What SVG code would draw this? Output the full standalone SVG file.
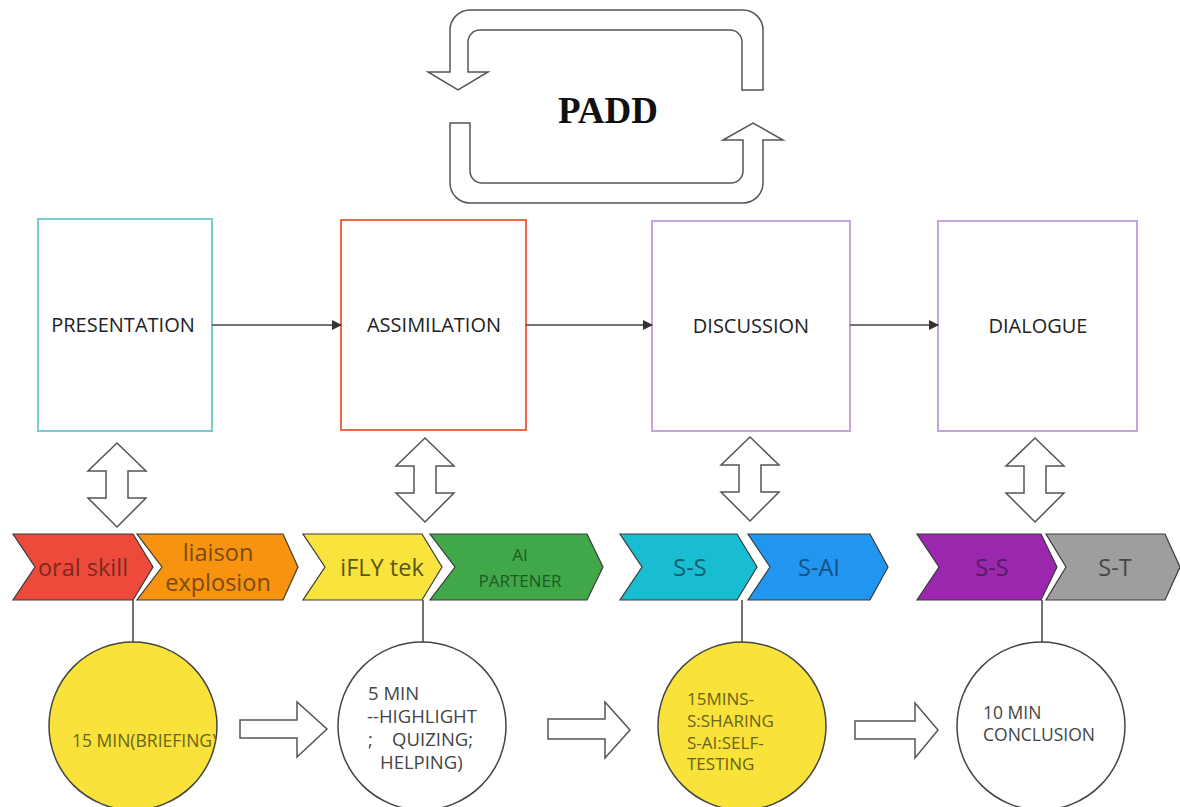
<svg xmlns="http://www.w3.org/2000/svg" width="1180" height="807" viewBox="0 0 1180 807">
<style>
.bg{fill:#ffffff}
.hollow{fill:#ffffff;stroke:#555555;stroke-width:1.5;stroke-linejoin:miter}
.box{fill:#ffffff;stroke-width:2}
.lbl{font-family:"Open Sans","Liberation Sans",sans-serif;font-size:20px;fill:#222222;text-anchor:middle}
.chev{stroke:#3a3a3a;stroke-width:1.2}
.ct{font-family:"Open Sans","Liberation Sans",sans-serif;font-size:23.5px;text-anchor:middle}
.ct2{font-family:"Open Sans","Liberation Sans",sans-serif;font-size:23.5px;text-anchor:middle}
.ct3{font-family:"Open Sans","Liberation Sans",sans-serif;font-size:17px;text-anchor:middle}
.conn{stroke:#444444;stroke-width:1.5;fill:none}
.circ{stroke:#444444;stroke-width:1.5}
.cx{font-family:"Open Sans","Liberation Sans",sans-serif;font-size:17px}
.cxl{font-family:"Open Sans","Liberation Sans",sans-serif;font-size:18.5px}
</style>
<defs>
<marker id="ah" markerWidth="10" markerHeight="10" refX="9" refY="5" orient="auto" markerUnits="userSpaceOnUse">
<path d="M0,0 L10,5 L0,10 Z" fill="#333333"/>
</marker>
<path id="dbl" d="M0,0 L29,28 L11,28 L11,55 L29,55 L0,84 L-29,55 L-11,55 L-11,28 L-29,28 Z"/>
<clipPath id="clip1"><circle cx="133" cy="726" r="84"/></clipPath>
</defs>
<rect class="bg" x="0" y="0" width="1180" height="807"/>

<g id="padd">
<path class="hollow" d="M763,90 L763,30 A20,20 0 0 0 743,10 L470,10 A20,20 0 0 0 450,30 L450,72 L428,72 L458,90 L488,72 L468,72 L468,42 A12,12 0 0 1 480,30 L730,30 A12,12 0 0 1 742,42 L742,90 Z"/>
<path class="hollow" d="M450,123 L450,183 A20,20 0 0 0 470,203 L743,203 A20,20 0 0 0 763,183 L763,140 L783,140 L753,123 L723,140 L743,140 L743,171 A12,12 0 0 1 731,183 L482,183 A12,12 0 0 1 470,171 L470,123 Z"/>
<text x="608" y="123" font-family="'Liberation Serif',serif" font-weight="bold" font-size="37" text-anchor="middle" fill="#111111">PADD</text>
</g>

<g id="presentation">
<rect class="box" x="38" y="219" width="174" height="212" stroke="#76cdcf"/>
<text class="lbl" x="123" y="332">PRESENTATION</text>
</g>
<g id="assimilation">
<rect class="box" x="341" y="220" width="185" height="210" stroke="#ec6a3f"/>
<text class="lbl" x="434" y="332">ASSIMILATION</text>
</g>
<g id="discussion">
<rect class="box" x="652" y="221" width="198" height="210" stroke="#c3a5dc"/>
<text class="lbl" x="751" y="333">DISCUSSION</text>
</g>
<g id="dialogue">
<rect class="box" x="938" y="221" width="199" height="210" stroke="#c3a5dc"/>
<text class="lbl" x="1038" y="333">DIALOGUE</text>
</g>

<g id="connectors">
<path class="conn" d="M212,325 L341,325" marker-end="url(#ah)"/>
<path class="conn" d="M526,325 L652,325" marker-end="url(#ah)"/>
<path class="conn" d="M850,325 L938,325" marker-end="url(#ah)"/>
<use href="#dbl" class="hollow" transform="translate(117,443)"/>
<use href="#dbl" class="hollow" transform="translate(425,438)"/>
<use href="#dbl" class="hollow" transform="translate(750,437)"/>
<use href="#dbl" class="hollow" transform="translate(1035,438)"/>
<path class="conn" d="M133,600 L133,642"/>
<path class="conn" d="M423,600 L423,642"/>
<path class="conn" d="M742,600 L742,642"/>
<path class="conn" d="M1042,600 L1042,642"/>
<polygon class="hollow" points="240,720 297,720 297,702 327,729 297,757 297,738 240,738"/>
<polygon class="hollow" points="548,719 605,719 605,702 630,730 605,758 605,739 548,739"/>
<polygon class="hollow" points="855,721 915,721 915,703 938,730 915,758 915,739 855,739"/>
</g>

<g id="oral-skill">
<polygon class="chev" fill="#ee4a3b" points="13,534 133,534 153,567 133,600 13,600 35,567"/>
<text class="ct" x="83" y="576" fill="#7a2a1e">oral skill</text>
</g>
<g id="liaison-explosion">
<polygon class="chev" fill="#f7930f" points="137,534 283,534 298,567 283,600 137,600 162,567"/>
<text class="ct" x="218" y="561" fill="#7a4a10">liaison</text>
<text class="ct" x="218" y="591" fill="#7a4a10">explosion</text>
</g>
<g id="ifly-tek">
<polygon class="chev" fill="#f8e43c" points="303,534 422,534 442,567 422,600 303,600 325,567"/>
<text class="ct" x="382" y="576" fill="#5a551a">iFLY tek</text>
</g>
<g id="ai-partener">
<polygon class="chev" fill="#41a84a" points="430,534 587,534 603,567 587,600 430,600 455,567"/>
<text class="ct3" x="520" y="561" fill="#1d5a24">AI</text>
<text class="ct3" x="520" y="587" fill="#1d5a24">PARTENER</text>
</g>
<g id="s-s-1">
<polygon class="chev" fill="#19bdd1" points="620,534 737,534 757,567 737,600 620,600 642,567"/>
<text class="ct2" x="690" y="576" fill="#135d6a">S-S</text>
</g>
<g id="s-ai">
<polygon class="chev" fill="#2196f0" points="748,534 870,534 888,567 870,600 748,600 770,567"/>
<text class="ct2" x="819" y="576" fill="#164f85">S-AI</text>
</g>
<g id="s-s-2">
<polygon class="chev" fill="#9b27af" points="917,534 1041,534 1057,567 1041,600 917,600 939,567"/>
<text class="ct2" x="992" y="576" fill="#561c63">S-S</text>
</g>
<g id="s-t">
<polygon class="chev" fill="#9e9e9e" points="1046,534 1165,534 1180,567 1165,600 1046,600 1066,567"/>
<text class="ct2" x="1115" y="576" fill="#474747">S-T</text>
</g>

<g id="circle-15min">
<circle class="circ" cx="133" cy="726" r="84" fill="#f9e33a"/>
<text class="cx" x="72" y="747" style="font-size:17.5px" fill="#6a6218" clip-path="url(#clip1)">15 MIN(BRIEFING)</text>
</g>
<g id="circle-5min">
<circle class="circ" cx="422" cy="726" r="84" fill="#ffffff"/>
<text class="cxl" fill="#444444"><tspan x="368" y="700">5 MIN</tspan><tspan x="367" y="723">--HIGHLIGHT</tspan><tspan x="368" y="746" xml:space="preserve">;    QUIZING;</tspan><tspan x="380" y="769">HELPING)</tspan></text>
</g>
<g id="circle-15mins">
<circle class="circ" cx="742" cy="726" r="84" fill="#f9e33a"/>
<text class="cx" fill="#6a6218"><tspan x="687" y="705">15MINS-</tspan><tspan x="687" y="727">S:SHARING</tspan><tspan x="687" y="749">S-AI:SELF-</tspan><tspan x="687" y="770">TESTING</tspan></text>
</g>
<g id="circle-10min">
<circle class="circ" cx="1041" cy="726" r="84" fill="#ffffff"/>
<text class="cx" style="font-size:17.5px" fill="#444444"><tspan x="983" y="719">10 MIN</tspan><tspan x="983" y="741">CONCLUSION</tspan></text>
</g>
</svg>
